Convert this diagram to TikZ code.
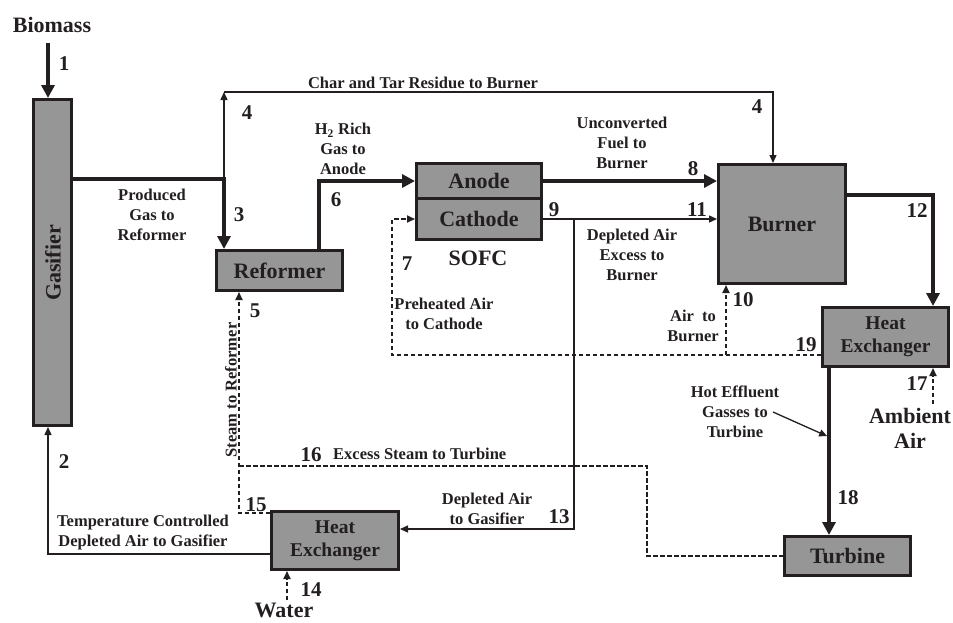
\documentclass[tikz,border=0pt]{standalone}
\usepackage{fontspec}
\setmainfont{Liberation Serif}
\usepackage{tikz}
\usetikzlibrary{arrows.meta,calc}

\definecolor{boxgray}{RGB}{150,150,150}
\definecolor{ink}{RGB}{35,31,32}

\begin{document}
\begin{tikzpicture}[
  x=1pt, y=-1pt,
  % Unit boxes
  unit/.style={
    rectangle,
    draw=ink,
    line width=3pt,
    fill=boxgray,
    inner sep=0pt,
    align=center,
    text=ink,
    font=\fontsize{22}{24}\selectfont\bfseries
  },
  hxunit/.style={unit, font=\fontsize{19.5}{23}\selectfont\bfseries},
  % Stream styles
  heavy/.style={
    draw=ink,
    line width=4pt,
    -{Triangle[length=13pt,width=13pt]}
  },
  light/.style={
    draw=ink,
    line width=1.3pt,
    -{Triangle[length=8pt,width=7pt]}
  },
  dashflow/.style={
    draw=ink,
    line width=1.8pt,
    dash pattern=on 4.5pt off 2.5pt,
    -{Triangle[length=8pt,width=7pt]}
  },
  dashline/.style={
    draw=ink,
    line width=1.8pt,
    dash pattern=on 4.5pt off 2.5pt
  },
  % Text styles
  lbl/.style={
    font=\fontsize{16.5}{20}\selectfont\bfseries,
    align=center,
    inner sep=0pt,
    text=ink
  },
  num/.style={
    font=\fontsize{21}{22}\selectfont\bfseries,
    inner sep=0pt,
    text=ink
  },
  big/.style={
    font=\fontsize{22}{25}\selectfont\bfseries,
    align=center,
    inner sep=0pt,
    text=ink
  }
]
\useasboundingbox (0,0) rectangle (953,622);

% === UNITS ===
\node[unit, minimum width=38pt, minimum height=326pt] (gasif) at (52.5,262.5) {};
\node[big, rotate=90] (gasiftxt) at (53,263) {Gasifier};
\node[unit, minimum width=126pt, minimum height=40pt] (reformer) at (279.5,270.5) {Reformer};
\node[unit, minimum width=125pt, minimum height=35pt] (anode) at (479,181) {Anode};
\node[unit, minimum width=125pt, minimum height=41pt] (cathode) at (479,219) {Cathode};
\node[unit, minimum width=127pt, minimum height=119pt] (burner) at (782,224) {Burner};
\node[hxunit, minimum width=126pt, minimum height=59pt] (hxtop) at (885.5,337) {Heat\\Exchanger};
\node[unit, minimum width=126pt, minimum height=39pt] (turbine) at (847.5,556) {Turbine};
\node[hxunit, minimum width=127pt, minimum height=58pt] (hxbot) at (335,540.5) {Heat\\Exchanger};

% === BEND POINTS ===
\coordinate (bio) at (48,43);
\coordinate (j3) at (224,179);
\coordinate (c4a) at (224,92);
\coordinate (c4b) at (773,92);
\coordinate (c6) at (319,181);
\coordinate (c12) at (933,195);
\coordinate (c13) at (574,529);
\coordinate (c7) at (392,355);
\coordinate (c10) at (726,355);
\coordinate (c18) at (829,437);
\coordinate (c17) at (933,404);
\coordinate (c14) at (287,600);
\coordinate (c2) at (48,554);
\coordinate (c15) at (239,513);
\coordinate (c16) at (239,466);
\coordinate (c16b) at (647,466);
\coordinate (hot) at (773,412);

% === STREAMS ===
\draw[heavy] (bio) -- (bio |- gasif.north);
\draw[heavy] (gasif.east |- j3) -- (j3) -- (j3 |- reformer.north);
\draw[light] (j3) -- (c4a);
\draw[light] (c4a) -- (c4b) -- (c4b |- burner.north);
\draw[heavy] (c6 |- reformer.north) -- (c6) -- (c6 -| anode.west);
\draw[heavy] (anode.east) -- (anode.east -| burner.west);
\draw[light] (cathode.east) -- (cathode.east -| burner.west);
\draw[light] (c13 |- cathode.east) -- (c13) -- (c13 -| hxbot.east);
\draw[heavy] (c12 -| burner.east) -- (c12) -- (c12 |- hxtop.north);
\draw[dashflow] (c7 -| hxtop.west) -- (c7) -- (c7 |- cathode.west) -- (cathode.west);
\draw[dashflow] (c10) -- (c10 |- burner.south);
\draw[heavy] (c18 |- hxtop.south) -- (c18 |- turbine.north);
\draw[light, shorten >=2pt] (hot) -- (c18);
\draw[dashflow] (c17) -- (c17 |- hxtop.south);
\draw[dashflow] (c14) -- (c14 |- hxbot.south);
\draw[light] (c2 -| hxbot.west) -- (c2) -- (c2 |- gasif.south);
\draw[dashflow] (c15 -| hxbot.west) -- (c15) -- (c15 |- reformer.south);
\draw[dashline] (c16) -- (c16b) -- (c16b |- turbine.west) -- (turbine.west);

% === LABELS ===
\node[big, anchor=base] (biomass) at (52,32) {Biomass};
\node[big, anchor=base] (water) at (284,617) {Water};
\node[big, anchor=north] (ambient) at (910,408) {Ambient\\Air};
\node[big, anchor=base] (sofc) at (478,265) {SOFC};

\node[lbl, anchor=base] (lblchar) at (423,88) {Char and Tar Residue to Burner};
\node[lbl, anchor=north] (lblprod) at (152,189) {Produced\\Gas to\\Reformer};
\node[lbl, anchor=north] (lblh2) at (343,123) {H\textsubscript{2} Rich\\Gas to\\Anode};
\node[lbl, anchor=north] (lblunconv) at (622,117) {Unconverted\\Fuel to\\Burner};
\node[lbl, anchor=north] (lbldepl) at (632,229) {Depleted Air\\Excess to\\Burner};
\node[lbl, anchor=north] (lblairb) at (693,310) {Air~ to\\Burner};
\node[lbl, anchor=north] (lblpreh) at (444,298) {Preheated Air\\to Cathode};
\node[lbl, anchor=north] (lblhot) at (735,386) {Hot Effluent\\Gasses to\\Turbine};
\node[lbl, anchor=north] (lbltemp) at (143,515) {Temperature Controlled\\Depleted Air to Gasifier};
\node[lbl, anchor=north] (lbldepg) at (487,493) {Depleted Air\\to Gasifier};
\node[lbl, anchor=base west] (lblexcess) at (333,459) {Excess Steam to Turbine};
\node[lbl, rotate=90] (lblsteam) at (231,390) {Steam to Reformer};

% === STREAM NUMBERS ===
\node[num] (n1) at (64,64) {1};
\node[num] (n2) at (64,462) {2};
\node[num] (n3) at (239,215) {3};
\node[num] (n4a) at (247,113) {4};
\node[num] (n4b) at (757,107) {4};
\node[num] (n5) at (255,311) {5};
\node[num] (n6) at (336,200) {6};
\node[num] (n7) at (407,264) {7};
\node[num] (n8) at (693,169) {8};
\node[num] (n9) at (554,210) {9};
\node[num] (n10) at (743,300) {10};
\node[num] (n11) at (697,210) {11};
\node[num] (n12) at (917,211) {12};
\node[num] (n13) at (559,517) {13};
\node[num] (n14) at (311,590) {14};
\node[num] (n15) at (256,505) {15};
\node[num] (n16) at (311,455) {16};
\node[num] (n17) at (917,384) {17};
\node[num] (n18) at (848,498) {18};
\node[num] (n19) at (806,345) {19};

\end{tikzpicture}
\end{document}
